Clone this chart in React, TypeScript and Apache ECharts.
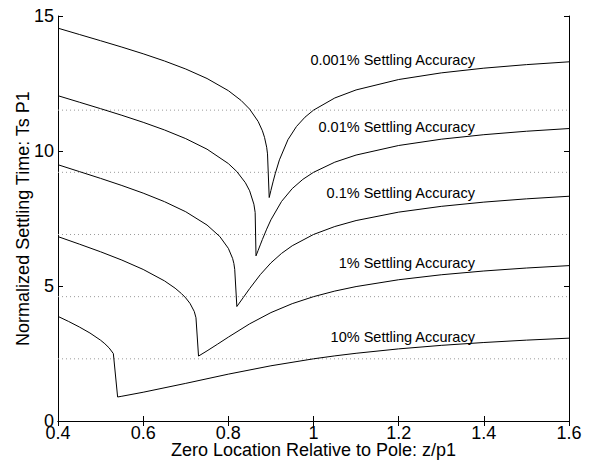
import React, { useEffect, useRef } from "react";
import * as echarts from "echarts";

// Zero location relative to pole (z/p1) and normalized settling time (Ts*p1)
const x10 = [0.4, 0.425, 0.45, 0.475, 0.5, 0.51, 0.52, 0.53, 0.54, 0.55, 0.6, 0.7, 0.8, 0.9, 1.0, 1.05, 1.1, 1.2, 1.3, 1.4, 1.5, 1.6];
const ts10 = [3.874, 3.686, 3.483, 3.259, 2.992, 2.862, 2.708, 2.497, 0.889, 0.917, 1.065, 1.394, 1.735, 2.045, 2.303, 2.412, 2.508, 2.671, 2.801, 2.907, 2.995, 3.068];

const x1 = [0.4, 0.45, 0.5, 0.55, 0.6, 0.65, 0.675, 0.69, 0.7, 0.71, 0.72, 0.724, 0.73, 0.75, 0.775, 0.8, 0.85, 0.9, 0.95, 1.0, 1.05, 1.1, 1.2, 1.3, 1.4, 1.5, 1.6];
const ts1 = [6.829, 6.552, 6.267, 5.96, 5.614, 5.19, 4.919, 4.718, 4.557, 4.355, 4.055, 3.824, 2.405, 2.597, 2.849, 3.106, 3.598, 4.015, 4.346, 4.605, 4.812, 4.979, 5.232, 5.416, 5.556, 5.666, 5.755];

const x01 = [0.4, 0.45, 0.5, 0.55, 0.6, 0.65, 0.7, 0.75, 0.78, 0.8, 0.81, 0.813, 0.815, 0.82, 0.835, 0.85, 0.875, 0.9, 0.925, 0.95, 1.0, 1.05, 1.1, 1.2, 1.3, 1.4, 1.5, 1.6];
const ts01 = [9.491, 9.239, 8.986, 8.722, 8.44, 8.124, 7.75, 7.258, 6.832, 6.395, 6.023, 5.835, 5.616, 4.24, 4.571, 4.903, 5.42, 5.856, 6.208, 6.49, 6.908, 7.203, 7.424, 7.736, 7.95, 8.107, 8.228, 8.324];

const x001 = [0.4, 0.45, 0.5, 0.55, 0.6, 0.65, 0.7, 0.75, 0.8, 0.82, 0.84, 0.85, 0.86, 0.863, 0.865, 0.87, 0.875, 0.88, 0.89, 0.9, 0.925, 0.95, 0.975, 1.0, 1.05, 1.1, 1.2, 1.3, 1.4, 1.5, 1.6];
const ts001 = [12.048, 11.808, 11.568, 11.322, 11.063, 10.78, 10.458, 10.067, 9.535, 9.238, 8.826, 8.526, 8.03, 7.722, 6.117, 6.32, 6.523, 6.724, 7.105, 7.451, 8.133, 8.607, 8.95, 9.21, 9.586, 9.85, 10.204, 10.437, 10.604, 10.732, 10.832];

const x0001 = [0.4, 0.45, 0.5, 0.55, 0.6, 0.65, 0.7, 0.75, 0.8, 0.83, 0.85, 0.87, 0.88, 0.885, 0.89, 0.892, 0.896, 0.9, 0.905, 0.91, 0.92, 0.94, 0.96, 0.98, 1.0, 1.05, 1.1, 1.2, 1.3, 1.4, 1.5, 1.6];
const ts0001 = [14.549, 14.316, 14.084, 13.848, 13.601, 13.334, 13.036, 12.685, 12.235, 11.872, 11.551, 11.094, 10.749, 10.505, 10.14, 9.894, 8.277, 8.54, 8.857, 9.155, 9.673, 10.419, 10.907, 11.252, 11.513, 11.964, 12.262, 12.647, 12.893, 13.068, 13.199, 13.303];

// single-pole settling times ln(1/eps), drawn as dotted reference levels
const refLevels = [2.3026, 4.6052, 6.9078, 9.2103, 11.5129];

const curveLabels = [
  "10% Settling Accuracy",
  "1% Settling Accuracy",
  "0.1% Settling Accuracy",
  "0.01% Settling Accuracy",
  "0.001% Settling Accuracy",
];
const labelY = [3.12, 5.84, 8.43, 10.9, 13.37];

const xMin = 0.4;
const xMax = 1.6;

const FONT = "'Liberation Sans', Arial, Helvetica, sans-serif";

export default function App() {
  const ref = useRef<HTMLDivElement>(null);

  useEffect(() => {
    if (!ref.current) return;
    const chart = echarts.init(ref.current, undefined, { renderer: "svg" });

    const curves = [
      [x10, ts10],
      [x1, ts1],
      [x01, ts01],
      [x001, ts001],
      [x0001, ts0001],
    ];

    const curveSeries = curves.map(([xs, ys], i) => ({
      type: "line",
      name: curveLabels[i],
      data: xs.map((x, j) => [x, ys[j]]),
      showSymbol: false,
      symbol: "none",
      z: 5,
      lineStyle: { color: "#000", width: 1 },
      markPoint: {
        symbol: "circle",
        symbolSize: 0,
        silent: true,
        data: [{ coord: [1.379, labelY[i]], value: curveLabels[i] }],
        label: {
          show: true,
          position: "left",
          distance: 0,
          formatter: curveLabels[i],
          color: "#000",
          fontSize: 14.5,
          fontFamily: FONT,
        },
      },
    }));

    const refSeries = refLevels.map((v) => ({
      type: "line",
      data: [
        [xMin, v],
        [xMax, v],
      ],
      showSymbol: false,
      symbol: "none",
      z: 2,
      lineStyle: { color: "#9a9a9a", width: 1, type: [1, 3] },
    }));

    const axisCommon = {
      axisLine: { show: true, lineStyle: { color: "#000", width: 1 } },
      axisTick: { show: true, inside: true, length: 5, lineStyle: { color: "#000" } },
      splitLine: { show: false },
    };

    chart.setOption({
      animation: false,
      grid: { left: 58, right: 23, top: 16, bottom: 42, outerBoundsMode: "none", containLabel: false },
      xAxis: [
        {
          type: "value",
          min: xMin,
          max: xMax,
          interval: 0.2,
          position: "bottom",
          ...axisCommon,
          axisLabel: { color: "#000", fontSize: 18, lineHeight: 18, fontFamily: FONT, margin: 3 },
          name: "Zero Location Relative to Pole: z/p1",
          nameLocation: "middle",
          nameGap: 20,
          nameMoveOverlap: false,
          nameTextStyle: { color: "#000", fontSize: 18, lineHeight: 18, fontFamily: FONT },
        },
        {
          type: "value",
          min: xMin,
          max: xMax,
          interval: 0.2,
          position: "top",
          ...axisCommon,
          axisLabel: { show: false },
        },
      ],
      yAxis: [
        {
          type: "value",
          min: 0,
          max: 15,
          interval: 5,
          position: "left",
          ...axisCommon,
          axisLabel: { color: "#000", fontSize: 18, lineHeight: 18, fontFamily: FONT, margin: 4 },
          name: "Normalized Settling Time: Ts P1",
          nameLocation: "middle",
          nameGap: 26,
          nameMoveOverlap: false,
          nameTextStyle: { color: "#000", fontSize: 18, lineHeight: 18, fontFamily: FONT },
        },
        {
          type: "value",
          min: 0,
          max: 15,
          interval: 5,
          position: "right",
          ...axisCommon,
          axisLabel: { show: false },
        },
      ],
      series: [...refSeries, ...curveSeries],
    });

    return () => chart.dispose();
  }, []);

  return <div ref={ref} style={{ width: 592, height: 463, position: "absolute", left: 0, top: 0 }} />;
}
